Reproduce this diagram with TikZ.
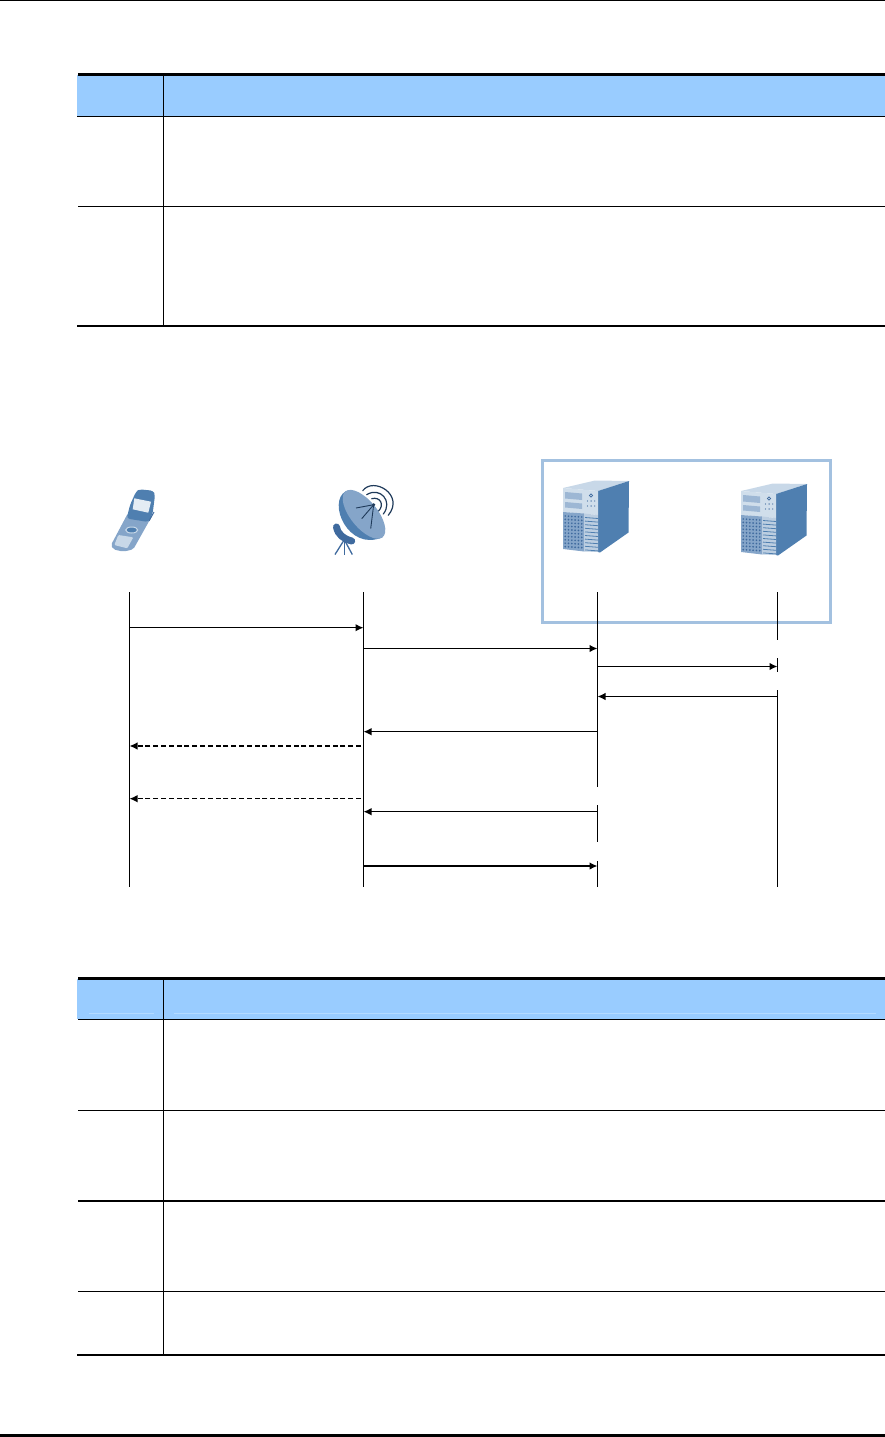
\documentclass[tikz,border=0pt]{standalone}
\usepackage{tikz}
\usetikzlibrary{arrows.meta,calc}
\definecolor{headblue}{HTML}{99CCFF}
\definecolor{headline}{HTML}{B4DAFF}
\definecolor{boxblue}{HTML}{A3C1E0}
\definecolor{iconmid}{HTML}{4F7FB0}
\definecolor{icondark}{HTML}{3F6A9E}
\definecolor{iconlight}{HTML}{85A5C9}
\definecolor{iconpale}{HTML}{C8D8E8}
\definecolor{iconnavy}{HTML}{1F3A5A}
\tikzset{
  lifeln/.style={line width=1pt,black},
  msg/.style={line width=1.3pt,-{Latex[length=8pt,width=7.5pt]}},
  msgD/.style={msg,dash pattern=on 5pt off 2.8pt},
  tabhead/.style={fill=headblue},
  tabrow/.style={line width=1.1pt},
  tabthick/.style={line width=2.6pt},
  grpbox/.style={draw=boxblue,line width=3pt},
}
\newcommand{\srvbox}{% origin = top left of the tower
  \fill[iconpale] (0,7) -- (35,10) -- (66,0) -- (32,-0.5) -- cycle;
  \fill[iconmid] (35,10) -- (66,0) -- (65.5,51.5) -- (37,71.5) -- (35,71) -- cycle;
  \fill[iconpale!85!white] (0,7) -- (35,10) -- (35,34) -- (0,31) -- cycle;
  \fill[iconlight!80!white] (2,11) -- (19,12.5) -- (19,19) -- (2,17.5) -- cycle;
  \fill[iconlight!80!white] (2,21) -- (19,22.5) -- (19,28) -- (2,26.5) -- cycle;
  \fill[iconlight] (0,31) -- (21,32.5) -- (21,70.5) -- (0,68) -- cycle;
  \fill[iconlight!55!white] (21,32.5) -- (35,34) -- (35,71) -- (21,70.5) -- cycle;
  \foreach \i in {0,...,9}{
    \draw[iconmid,line width=0.8pt] (22,36.5+\i*3.6) -- (35,37.5+\i*3.6);
    \foreach \j in {0,...,5}{
      \fill[icondark] (2.2+\j*3.3,35+\i*3.4+\j*0.2) circle (0.95pt);}}
  \foreach \i/\j in {0/0,1/0,2/0,0/1,1/1,2/1}{
    \fill[icondark] (24.5+\i*3.6,20+\j*5) circle (0.7pt);}
  \draw[icondark,line width=0.6pt] (28,14.5) circle (1.6pt);}
\begin{document}
\begin{tikzpicture}[x=1pt,y=-1pt]
\useasboundingbox (0,0) rectangle (885,1437);
% page rules
\draw[line width=1.6pt] (0,0.4) -- (885,0.4);
\draw[line width=3pt] (0,1435.5) -- (885,1435.5);
% upper table
\fill[tabhead] (77,75) rectangle (885,116);
\draw[tabthick] (78,74.5) -- (885,74.5);
\draw[tabrow] (77,116.3) -- (885,116.3);
\draw[tabrow] (78,206.3) -- (885,206.3);
\draw[line width=2pt] (77,325.7) -- (885,325.7);
\draw[tabrow] (163.7,75) -- (163.7,325);
% lower table
\fill[tabhead] (77,979) rectangle (885,1019);
\draw[headline,line width=0.8pt] (89,1013) -- (154,1013);
\draw[headline,line width=0.8pt] (173.5,1013) -- (875.5,1013);
\draw[tabthick] (78,978.5) -- (885,978.5);
\foreach \Y in {1019.3,1110.3,1201,1291.3}{
  \draw[tabrow] (78,\Y) -- (885,\Y);}
\draw[line width=2pt] (77,1354.7) -- (885,1354.7);
\draw[tabrow] (163.7,979) -- (163.7,1354);
% group box round the two servers
\draw[grpbox] (542.5,460.5) rectangle (830.5,622.5);
% phone
\fill[iconlight,rounded corners=2pt] (128,513) -- (152,516) -- (133.3,549.3) -- (123.3,551.7) -- (113.3,549.3) -- (111,545) -- cycle;
\fill[iconpale,rounded corners=1pt] (118.3,535) -- (133.3,537.3) -- (127.3,548.3) -- (114.3,545) -- cycle;
\fill[iconmid,rounded corners=3pt] (139.3,489.3) -- (153.3,490.7) -- (155,495) -- (152.7,513.3) -- (148.3,522) -- (126.7,518.5) -- (130,505) -- (136,491.7) -- cycle;
\fill[iconpale!50!white] (134.3,498.3) -- (151,501.7) -- (148.3,512.7) -- (132.7,509.3) -- cycle;
\draw[iconpale,fill=iconmid,line width=1pt] (131.7,530) ellipse (6pt and 3pt);
\draw[icondark,line width=1pt] (149,521) -- (154,512);
% dish
\draw[iconnavy,line width=1.2pt,line cap=round] (362.7,490.7) .. controls (373.5,476.3) and (405,494.7) .. (388.3,515.3);
\draw[iconnavy,line width=1.2pt,line cap=round] (366.7,494.7) .. controls (380,486.3) and (393.3,501.3) .. (383.3,514);
\draw[iconnavy,line width=1.2pt,line cap=round] (371.7,498.7) .. controls (380,496.3) and (385,504.7) .. (378.3,511.3);
\draw[icondark,line width=1.3pt] (344.3,539.7) -- (335,554.5);
\draw[icondark,line width=1.3pt] (344.3,539.7) -- (344.3,554.5);
\draw[icondark,line width=1.3pt] (344.3,539.7) -- (352.3,554.5);
\draw[icondark,line width=7pt,line cap=round] (336.5,527) .. controls (338,535) and (344,539) .. (351.7,541);
\fill[iconmid] (345.7,491.3) .. controls (327,502) and (348,552) .. (382.3,537.3) -- cycle;
\fill[iconlight] (364,514.3) ellipse [x radius=29.5,y radius=13.5,rotate=-51];
\draw[iconnavy,line width=0.9pt] (373.7,504.7) -- (356,508);
\draw[iconnavy,line width=0.9pt] (373.7,504.7) -- (361.7,518.7);
\draw[iconnavy,line width=0.9pt] (373.7,504.7) -- (370.7,528.7);
\fill[iconnavy] (373.7,504.7) circle (1.6pt);
% servers
\begin{scope}[shift={(563,481)}]\srvbox\end{scope}
\begin{scope}[shift={(741,484)}]\srvbox\end{scope}
% lifelines
\coordinate (ue) at (129.5,592);
\coordinate (bts) at (363.5,592);
\coordinate (bsc) at (597.5,592);
\coordinate (msc) at (777.5,592);
\foreach \nm/\ya/\yb in {ue/592/887,bts/592/887,bsc/592/787,bsc/805/842,bsc/861/887,msc/592/640,msc/658/672,msc/690/887}{
  \draw[lifeln] (\nm |- 0,\ya) -- (\nm |- 0,\yb);}
% messages
\foreach \from/\to/\Y in {ue/bts/627.7,bts/bsc/648.5,bsc/msc/666.5,msc/bsc/696.5,bsc/bts/731.7,bsc/bts/811.7,bts/bsc/866}{
  \draw[msg] (\from |- 0,\Y) -- (\to |- 0,\Y);}
\foreach \Y in {746,798.7}{
  \draw[msgD] ($(bts |- 0,\Y)+(-2.5,0)$) -- (ue |- 0,\Y);}
\end{tikzpicture}
\end{document}
